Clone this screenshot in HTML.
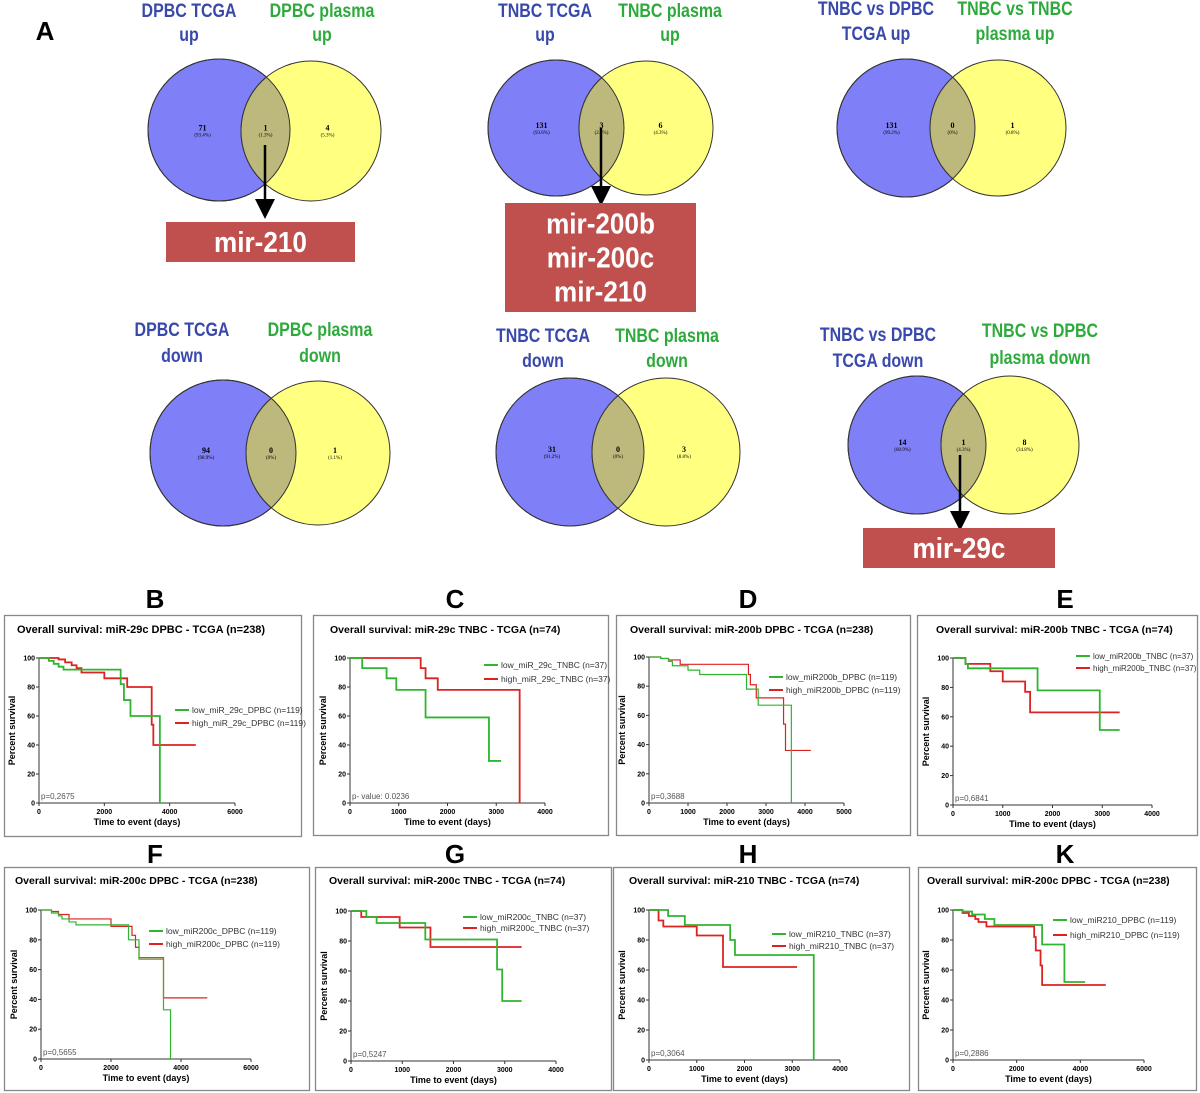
<!DOCTYPE html>
<html><head><meta charset="utf-8"><style>
html,body{margin:0;padding:0;background:#fff}
svg{display:block}
.vl{font-family:"Liberation Sans",sans-serif;font-weight:bold;font-size:19px}
.vn{font-family:"Liberation Serif",serif;font-weight:bold;font-size:8px;text-anchor:middle}
.vp{font-family:"Liberation Serif",serif;font-size:5px;text-anchor:middle}
.let{font-family:"Liberation Sans",sans-serif;font-weight:bold;font-size:26px;text-anchor:middle}
.mir{font-family:"Liberation Sans",sans-serif;font-weight:bold;font-size:29px;fill:#fff;text-anchor:middle}
</style></head><body>
<svg id="fig" width="1200" height="1093" viewBox="0 0 1200 1093" xmlns="http://www.w3.org/2000/svg">
<defs><marker id="ah" markerWidth="8" markerHeight="8" refX="4" refY="4" orient="auto"><path d="M0,0 L8,4 L0,8 z" fill="#000"/></marker></defs>
<text x="45" y="40" class="let">A</text>
<g id="venns"></g>
<g id="kms"></g>
</svg>
<script>
// ---- Venn data ----
const vennCounts=[["71","1","4"],["131","3","6"],["131","0","1"],["94","0","1"],["31","0","3"],["14","1","8"]];
const vennPcts=[["(93.4%)","(1.3%)","(5.3%)"],["(93.6%)","(2.1%)","(4.3%)"],["(99.2%)","(0%)","(0.8%)"],["(98.9%)","(0%)","(1.1%)"],["(91.2%)","(0%)","(8.8%)"],["(60.9%)","(4.3%)","(34.8%)"]];
// ---- KM data (time in days, percent survival after event) ----
const bLowT=[300,450,600,750,2500,2600,2800,3700], bLowS=[98,96,94,92,82,71,60,0], bLowEnd=3700;
const bHighT=[600,800,1000,1150,1300,2000,2700,3450,3500], bHighS=[99,97,95,93,90,86,80,54,40], bHighEnd=4800;
const cLowT=[250,750,950,1550,2850], cLowS=[93,86,78,59,29], cLowEnd=3100;
const cHighT=[1450,1550,1800,3480], cHighS=[93,86,78,0], cHighEnd=3480;
const dLowT=[300,500,600,1000,1300,2500,2800,3650], dLowS=[99,97,94,91,88,78,67,0], dLowEnd=3650;
const dHighT=[300,500,800,2550,2600,2750,3450,3500], dHighS=[99,98,95,88,81,72,54,36], dHighEnd=4150;
const eLowT=[250,300,1700,2950], eLowS=[96,93,78,51], eLowEnd=3350;
const eHighT=[250,750,1000,1450,1550], eHighS=[96,91,84,77,63], eHighEnd=3350;
const fLowT=[300,500,600,800,1000,2500,2800,3500,3700], fLowS=[98,96,94,92,90,80,67,33,0], fLowEnd=3700;
const fHighT=[300,500,800,2000,2600,2700,2800,3500], fHighS=[99,97,94,89,83,75,68,41], fHighEnd=4750;
const gLowT=[300,500,1450,2850,2950], gLowS=[96,92,81,61,40], gLowEnd=3330;
const gHighT=[200,950,1550], gHighS=[96,89,76], gHighEnd=3330;
const hLowT=[400,750,1700,1800,3450], hLowS=[96,90,80,70,0], hLowEnd=3450;
const hHighT=[200,300,1000,1550], hHighS=[93,89,83,62], hHighEnd=3100;
const kLowT=[300,600,1000,1300,2800,3500], kLowS=[99,97,94,90,77,52], kLowEnd=4150;
const kHighT=[300,500,700,800,1050,2550,2600,2750,2800], kHighS=[98,96,94,92,89,82,73,63,50], kHighEnd=4800;
const yTicks=[0,20,40,60,80,100];

const NS="http://www.w3.org/2000/svg";
function mk(tag,attrs,parent,text){const e=document.createElementNS(NS,tag);for(const k in attrs)e.setAttribute(k,attrs[k]);if(text!==undefined)e.textContent=text;parent.appendChild(e);return e;}
function squeeze(t,f){const w=t.getComputedTextLength();if(w>0){t.setAttribute('textLength',(w*f).toFixed(1));t.setAttribute('lengthAdjust','spacingAndGlyphs');}}

// ---- Venns ----
const vg=document.getElementById('venns');
const venns=[
 {c1:[219,130,71],c2:[311,131,70],L:[189,"DPBC TCGA","up",17,41],R:[322,"DPBC plasma","up",17,41],arrow:[265,145,213],box:[166,222,189,40],mir:["mir-210"]},
 {c1:[556,128,68],c2:[646,128,67],L:[545,"TNBC TCGA","up",17,41],R:[670,"TNBC plasma","up",17,41],arrow:[601,128,200],box:[505,203,191,109],mir:["mir-200b","mir-200c","mir-210"]},
 {c1:[906,128,69],c2:[998,128,68],L:[876,"TNBC vs DPBC","TCGA  up",15,40],R:[1015,"TNBC vs TNBC","plasma  up",15,40]},
 {c1:[223,453,73],c2:[318,453,72],L:[182,"DPBC TCGA","down",336,362],R:[320,"DPBC plasma","down",336,362]},
 {c1:[570,452,74],c2:[666,452,74],L:[543,"TNBC TCGA","down",342,367],R:[667,"TNBC plasma","down",342,367]},
 {c1:[917,445,69],c2:[1010,445,69],L:[878,"TNBC vs DPBC","TCGA  down",341,367],R:[1040,"TNBC vs DPBC","plasma  down",337,364],arrow:[960,455,525],box:[863,528,192,40],mir:["mir-29c"]}
];
venns.forEach((v,i)=>{
 const g=mk('g',{},vg);
 
 
 const cp=mk('clipPath',{id:'cp'+i},g);mk('circle',{cx:v.c1[0],cy:v.c1[1],r:v.c1[2]},cp);
 const a=mk('circle',{cx:v.c1[0],cy:v.c1[1],r:v.c1[2],fill:'#7f7ff7',stroke:'#333','stroke-width':1},g);
 
 const b=mk('circle',{cx:v.c2[0],cy:v.c2[1],r:v.c2[2],fill:'#ffff80',stroke:'#333','stroke-width':1},g);
 
 mk('circle',{cx:v.c2[0],cy:v.c2[1],r:v.c2[2],fill:'#bdb87c',stroke:'#333','stroke-width':1,'clip-path':'url(#cp'+i+')'},g);
 mk('circle',{cx:v.c1[0],cy:v.c1[1],r:v.c1[2],fill:'none',stroke:'#333','stroke-width':1},g);
 const ox=(v.c2[0]-v.c2[2]+v.c1[0]+v.c1[2])/2;
 const xs=[(v.c1[0]-v.c1[2]+v.c2[0]-v.c2[2])/2+8,ox,(v.c1[0]+v.c1[2]+v.c2[0]+v.c2[2])/2-8];
 const cy=(v.c1[1]+v.c2[1])/2;
 for(let k=0;k<3;k++){
  mk('text',{x:xs[k],y:cy,class:'vn'},g,vennCounts[i][k]);
  mk('text',{x:xs[k],y:cy+6,class:'vp'},g,vennPcts[i][k]);
 }
 [[v.L,'#3949ab','venn-left-label'],[v.R,'#2eaa3c','venn-right-label']].forEach(([l,c,n])=>{
  const t=mk('text',{x:l[0],y:l[3],class:'vl','text-anchor':'middle',fill:c},g,l[1]);
  squeeze(t,0.84);
  const t2=mk('text',{x:l[0],y:l[4],class:'vl','text-anchor':'middle',fill:c},g,l[2]);squeeze(t2,0.84);
 });
 if(v.arrow){mk('line',{x1:v.arrow[0],y1:v.arrow[1],x2:v.arrow[0],y2:v.arrow[2]-4,stroke:'#000','stroke-width':2.5,'marker-end':'url(#ah)'},g);}
 if(v.box){
  const r=mk('rect',{x:v.box[0],y:v.box[1],width:v.box[2],height:v.box[3],fill:'#c0504d'},g);
  
  const n=v.mir.length, lh=34, top=v.box[1]+v.box[3]/2-(n*lh)/2;
  v.mir.forEach((m,j)=>{const t=mk('text',{x:v.box[0]+v.box[2]/2,y:top+lh*j+27,class:'mir'},g,m);squeeze(t,0.9);});
 }
});

// ---- KM panels ----
const kg=document.getElementById('kms');
const panels=[
 {id:'b',letter:'B',lx:155,ly:608,box:[4,615,297,221],x0:39,x1:235,xmax:6000,xstep:2000,y100:658,y0:803,title:'Overall survival: miR-29c DPBC - TCGA  (n=238)',tx:17,ty:633,lgx:175,lgy:[710,723],names:['low_miR_29c_DPBC (n=119)','high_miR_29c_DPBC (n=119)'],p:'p=0,2675',
  low:[bLowT,bLowS,bLowEnd],high:[bHighT,bHighS,bHighEnd],fs:11},
 {id:'c',letter:'C',lx:455,ly:608,box:[313,615,295,220],x0:350,x1:545,xmax:4000,xstep:1000,y100:658,y0:803,title:'Overall survival: miR-29c TNBC - TCGA  (n=74)',tx:330,ty:633,lgx:484,lgy:[665,679],names:['low_miR_29c_TNBC (n=37)','high_miR_29c_TNBC (n=37)'],p:'p- value: 0.0236',
  low:[cLowT,cLowS,cLowEnd],high:[cHighT,cHighS,cHighEnd],fs:10.5},
 {id:'d',letter:'D',lx:748,ly:608,box:[616,615,294,220],x0:649,x1:844,xmax:5000,xstep:1000,y100:657,y0:803,title:'Overall survival: miR-200b DPBC - TCGA  (n=238)',tx:630,ty:633,lgx:769,lgy:[677,690],names:['low_miR200b_DPBC (n=119)','high_miR200b_DPBC (n=119)'],p:'p=0,3688',
  low:[dLowT,dLowS,dLowEnd],high:[dHighT,dHighS,dHighEnd],fs:10.5,thin:true},
 {id:'e',letter:'E',lx:1065,ly:608,box:[917,615,280,220],x0:953,x1:1152,xmax:4000,xstep:1000,y100:658,y0:805,title:'Overall survival: miR-200b TNBC - TCGA  (n=74)',tx:936,ty:633,lgx:1076,lgy:[656,668],names:['low_miR200b_TNBC (n=37)','high_miR200b_TNBC (n=37)'],p:'p=0,6841',
  low:[eLowT,eLowS,eLowEnd],high:[eHighT,eHighS,eHighEnd],fs:10.5,lfs:8},
 {id:'f',letter:'F',lx:155,ly:863,box:[4,867,305,223],x0:41,x1:251,xmax:6000,xstep:2000,y100:910,y0:1059,title:'Overall survival: miR-200c DPBC - TCGA  (n=238)',tx:15,ty:884,lgx:149,lgy:[931,944],names:['low_miR200c_DPBC (n=119)','high_miR200c_DPBC (n=119)'],p:'p=0,5655',
  low:[fLowT,fLowS,fLowEnd],high:[fHighT,fHighS,fHighEnd],fs:10.5,thin:true},
 {id:'g',letter:'G',lx:455,ly:863,box:[315,867,296,223],x0:351,x1:556,xmax:4000,xstep:1000,y100:911,y0:1061,title:'Overall survival: miR-200c TNBC - TCGA  (n=74)',tx:329,ty:884,lgx:463,lgy:[917,928],names:['low_miR200c_TNBC (n=37)','high_miR200c_TNBC (n=37)'],p:'p=0,5247',
  low:[gLowT,gLowS,gLowEnd],high:[gHighT,gHighS,gHighEnd],fs:10.5},
 {id:'h',letter:'H',lx:748,ly:863,box:[613,867,296,223],x0:649,x1:840,xmax:4000,xstep:1000,y100:910,y0:1060,title:'Overall survival: miR-210 TNBC - TCGA  (n=74)',tx:629,ty:884,lgx:772,lgy:[934,946],names:['low_miR210_TNBC (n=37)','high_miR210_TNBC (n=37)'],p:'p=0,3064',
  low:[hLowT,hLowS,hLowEnd],high:[hHighT,hHighS,hHighEnd],fs:10.5},
 {id:'k',letter:'K',lx:1065,ly:863,box:[918,867,278,223],x0:953,x1:1144,xmax:6000,xstep:2000,y100:910,y0:1060,title:'Overall survival: miR-200c DPBC - TCGA  (n=238)',tx:927,ty:884,lgx:1053,lgy:[920,935],names:['low_miR210_DPBC (n=119)','high_miR210_DPBC (n=119)'],p:'p=0,2886',
  low:[kLowT,kLowS,kLowEnd],high:[kHighT,kHighS,kHighEnd],fs:10.5}
];
const F='"Liberation Sans",sans-serif';
panels.forEach(P=>{
 const g=mk('g',{},kg);
 
 
 const L=mk('text',{x:P.lx,y:P.ly,class:'let'},g,P.letter);
 
 mk('rect',{x:P.box[0]+.5,y:P.box[1]+.5,width:P.box[2],height:P.box[3],fill:'none',stroke:'#888','stroke-width':1.3},g);
 const T=mk('text',{x:P.tx,y:P.ty,'font-family':F,'font-weight':'bold','font-size':P.fs},g,P.title);
 
 const sx=t=>P.x0+(P.x1-P.x0)*t/P.xmax, sy=v=>P.y0-(P.y0-P.y100)*v/100;
 mk('line',{x1:P.x0,y1:P.y100,x2:P.x0,y2:P.y0,stroke:'#333','stroke-width':1},g);
 mk('line',{x1:P.x0,y1:P.y0,x2:P.x1,y2:P.y0,stroke:'#333','stroke-width':1},g);
 yTicks.forEach(v=>{mk('line',{x1:P.x0-3,y1:sy(v),x2:P.x0,y2:sy(v),stroke:'#333'},g);mk('text',{x:P.x0-4,y:sy(v)+2.5,'font-family':F,'font-weight':'bold','font-size':7,'text-anchor':'end'},g,String(v));});
 for(let t=0;t<=P.xmax;t+=P.xstep){mk('line',{x1:sx(t),y1:P.y0,x2:sx(t),y2:P.y0+3,stroke:'#333'},g);mk('text',{x:sx(t),y:P.y0+11,'font-family':F,'font-weight':'bold','font-size':7,'text-anchor':'middle'},g,String(t));}
 const xt=mk('text',{x:(P.x0+P.x1)/2,y:P.y0+22,'font-family':F,'font-weight':'bold','font-size':9,'text-anchor':'middle'},g,'Time to event (days)');
 
 const yc=(P.y0+P.y100)/2;
 const yt=mk('text',{x:P.x0-24,y:yc,'font-family':F,'font-weight':'bold','font-size':9,'text-anchor':'middle',transform:`rotate(-90 ${P.x0-24} ${yc})`},g,'Percent survival');
 
 mk('text',{x:P.x0+2,y:P.y0-4,'font-family':F,'font-size':8,fill:'#555'},g,P.p);
 const sw=P.thin?1.2:1.8;
 [[P.high,'#dd2222','high'],[P.low,'#2fb52f','low']].forEach(s=>{
  const [T2,S,E]=s[0];let d=`M${sx(0)},${sy(100)}`;
  for(let i=0;i<T2.length;i++){d+=` H${sx(T2[i])} V${sy(S[i])}`;}
  d+=` H${sx(E)}`;
  const p=mk('path',{d:d,fill:'none',stroke:s[1],'stroke-width':sw},g);
  
  
 });
 ['#2fb52f','#dd2222'].forEach((c,i)=>{
  const lg=mk('g',{},g);
  
  
  mk('line',{x1:P.lgx,y1:P.lgy[i],x2:P.lgx+14,y2:P.lgy[i],stroke:c,'stroke-width':2},lg);
  mk('text',{x:P.lgx+17,y:P.lgy[i]+3,'font-family':F,'font-size':P.lfs||8.5,fill:'#333'},lg,P.names[i]);
 });
});
</script>
</body></html>
